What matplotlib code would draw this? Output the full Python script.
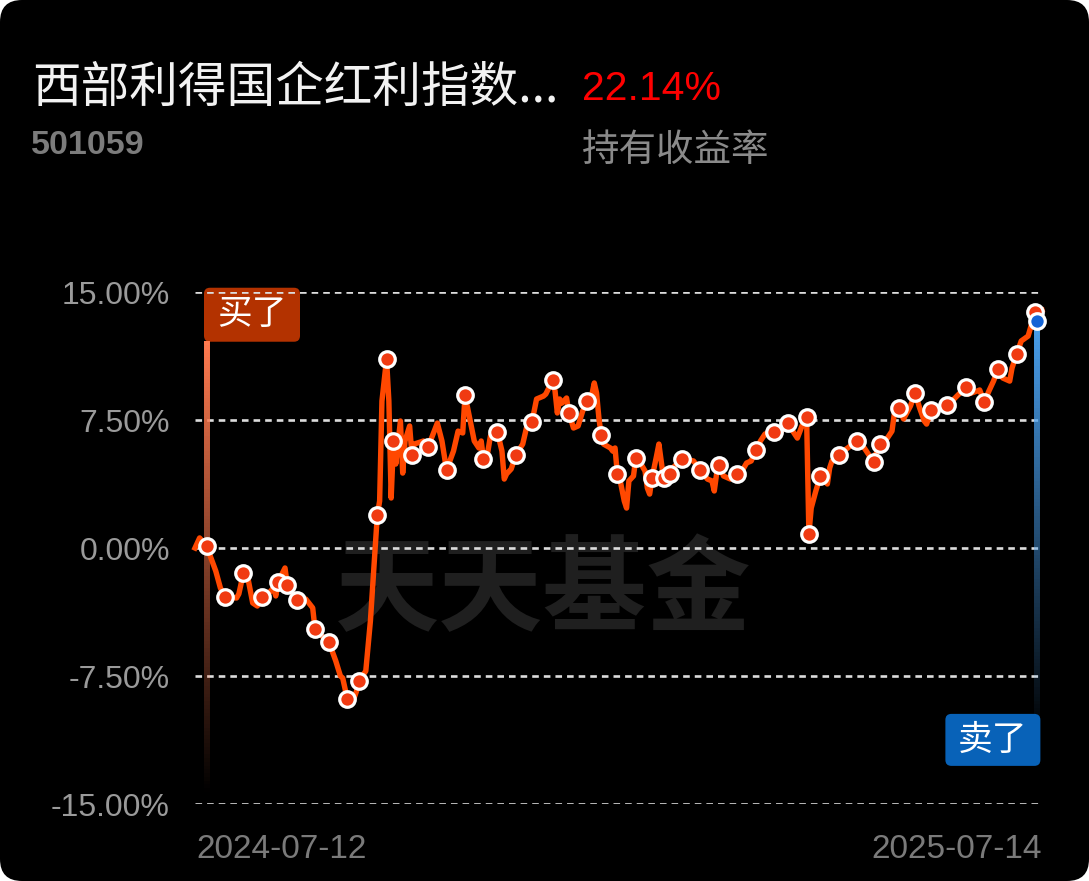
import matplotlib
matplotlib.use("Agg")
import matplotlib.pyplot as plt
import numpy as np
import pandas as pd
from matplotlib.patches import FancyBboxPatch
from matplotlib.collections import LineCollection
from matplotlib.transforms import IdentityTransform

plt.rcParams['font.family'] = ['Liberation Sans', 'Noto Sans CJK SC', 'DejaVu Sans']

# fund info
fund_name = "西部利得国企红利指数..."
fund_code = "501059"
hold_return = "22.14%"
hold_label = "持有收益率"
start_date = pd.Timestamp("2024-07-12")
end_date = pd.Timestamp("2025-07-14")

# holding return curve: calendar days after start date, return in %
days = [0, 2, 5, 9, 11, 13, 18, 19, 21, 23, 25, 27, 29, 32, 34, 35, 36, 39, 40, 44,
        48, 51, 52, 55, 58, 61, 63, 64, 66, 68, 70, 71, 74, 76, 79, 80, 81, 83, 84, 85,
        86, 87, 89, 90, 91, 93, 94, 95, 99, 101, 105, 107, 109, 112, 114, 116, 117, 119, 121, 123,
        124, 125, 126, 128, 131, 133, 134, 135, 137, 139, 142, 144, 146, 148, 151, 152, 155, 156, 157, 158,
        159, 161, 162, 164, 166, 168, 170, 172, 173, 174, 175, 176, 177, 180, 181, 182, 183, 184, 186, 187,
        188, 190, 191, 193, 195, 196, 197, 198, 200, 201, 203, 206, 207, 211, 216, 219, 222, 224, 225, 226,
        227, 229, 232, 235, 237, 239, 241, 243, 245, 247, 251, 252, 255, 257, 259, 261, 263, 265, 266, 267,
        269, 271, 274, 275, 276, 279, 281, 284, 287, 290, 294, 295, 297, 300, 302, 303, 305, 307, 310, 312,
        314, 316, 317, 319, 323, 326, 328, 331, 334, 335, 339, 340, 342, 344, 346, 348, 350, 353, 354, 356,
        358, 361, 362, 364, 367]
returns = [0.00, 0.59, 0.12, -1.35, -2.34, -2.87, -2.93, -2.69, -1.46, -1.82, -3.22, -3.40, -2.87, -2.64, -2.34, -2.81, -1.99, -1.17, -2.17, -3.05,
           -2.99, -3.51, -4.75, -5.16, -5.51, -6.62, -7.50, -7.62, -8.85, -9.14, -8.38, -7.79, -7.21, -4.28, 1.93, 2.75, 8.61, 11.07, 8.61, 2.93,
           6.27, 4.92, 7.44, 4.39, 6.27, 7.15, 5.45, 6.09, 6.27, 5.92, 7.32, 6.27, 4.57, 5.68, 6.85, 6.74, 8.96, 7.62, 6.27, 5.86,
           6.27, 5.21, 4.92, 6.56, 6.80, 5.68, 4.04, 4.34, 4.63, 5.45, 6.09, 7.26, 7.38, 8.73, 8.90, 9.02, 9.84, 9.20, 7.91, 8.73,
           8.49, 8.79, 7.91, 7.03, 7.15, 8.03, 8.61, 9.02, 9.67, 9.08, 7.62, 6.62, 6.09, 5.86, 5.68, 5.86, 4.34, 4.10, 2.75, 2.34,
           3.93, 4.22, 5.27, 4.98, 4.51, 3.51, 3.16, 4.10, 5.40, 6.09, 4.10, 4.34, 4.69, 5.21, 5.10, 4.57, 4.04, 3.93, 3.34, 4.34,
           4.86, 4.22, 4.04, 4.34, 4.51, 4.98, 5.10, 5.74, 6.27, 6.68, 6.80, 6.44, 7.03, 7.32, 6.85, 6.44, 7.15, 7.67, 0.82, 2.34,
           3.34, 4.22, 3.75, 4.69, 5.10, 5.45, 5.68, 5.98, 6.27, 5.86, 5.04, 5.51, 6.09, 6.44, 6.85, 7.85, 8.20, 7.56, 8.32, 9.08,
           8.20, 7.44, 7.26, 8.08, 8.32, 8.38, 8.61, 9.02, 9.43, 9.02, 9.20, 9.26, 8.55, 9.20, 9.78, 10.49, 9.96, 9.78, 10.54, 11.36,
           12.13, 12.42, 12.89, 13.83, 13.94]

# days with a trade marker
trade_days = [5, 13, 21, 29, 36, 40, 44, 52, 58, 66, 71, 79, 83, 86, 94, 101, 109, 117, 125, 131,
              139, 146, 155, 162, 170, 176, 183, 191, 198, 203, 206, 211, 219, 227, 235, 243, 251, 257, 265, 266,
              271, 279, 287, 294, 297, 305, 312, 319, 326, 334, 342, 348, 356, 364]

buy_day = 5
sell_day = 365
sell_return = 13.30

y_ticks = [15, 7.5, 0, -7.5, -15]
y_labels = ["15.00%", "7.50%", "0.00%", "-7.50%", "-15.00%"]

total_days = (end_date - start_date).days
ret_map = dict(zip(days, returns))
trade_vals = [ret_map[d] for d in trade_days]

W, H = 1089, 881
fig = plt.figure(figsize=(W / 100, H / 100), dpi=100)
fig.patch.set_facecolor("white")
card = FancyBboxPatch((0, 0), W, H, boxstyle="round,pad=0,rounding_size=22",
                      transform=IdentityTransform(), facecolor="black", edgecolor="none",
                      zorder=-10)
fig.add_artist(card)

ax_l, ax_r, ax_t, ax_b = 195, 1042, 292, 804
ax = fig.add_axes([ax_l / W, 1 - ax_b / H, (ax_r - ax_l) / W, (ax_b - ax_t) / H])
ax.set_facecolor("none")
ax.set_xlim(0, total_days)
ax.set_ylim(-15, 15)
for s in ax.spines.values():
    s.set_visible(False)
ax.set_xticks([])
ax.set_yticks(y_ticks)
ax.set_yticklabels(y_labels)
ax.tick_params(axis="y", length=0, pad=18, labelsize=23, labelcolor="#9a9a9a")

# pixel scale in data units, for round corners
px_day = (ax_r - ax_l) / total_days
px_pct = (ax_b - ax_t) / 30.0
asp = px_day / px_pct

for yv in y_ticks:
    ax.axhline(yv, color="#dcdcdc", lw=1.9, ls=(0, (2.5, 1.9)), zorder=2)

# watermark
ax.text(543 / W, 1 - 592 / H, "天天基金", fontsize=75, fontweight="bold",
        family=["Noto Sans CJK SC"], color="#1f1f1f", ha="center", va="center",
        transform=fig.transFigure, zorder=0.5, clip_on=False)

# buy flag line with fade
n = 120
ys = np.linspace(12.1, -14.3, n)
segs = [[(buy_day, ys[i]), (buy_day, ys[i + 1])] for i in range(n - 1)]
cols = [(1.0, 0.48, 0.31, 1 - i / (n - 1)) for i in range(n - 1)]
ax.add_collection(LineCollection(segs, colors=cols, linewidths=4.3, zorder=3))

# sell flag line with fade
ys = np.linspace(sell_return, -11.0, n)
segs = [[(sell_day, ys[i]), (sell_day, ys[i + 1])] for i in range(n - 1)]
cols = [(0.29, 0.63, 0.94, 1 - i / (n - 1)) for i in range(n - 1)]
ax.add_collection(LineCollection(segs, colors=cols, linewidths=4.3, zorder=3))

# flag boxes
bw = 96 / px_day
bh = 54 / px_pct
buy_box = FancyBboxPatch((buy_day - 1.1, 15.25 - bh), bw, bh,
                         boxstyle="round,pad=0,rounding_size=%f" % (6 / px_day),
                         mutation_aspect=asp, facecolor="#b33200", edgecolor="none",
                         zorder=1.5, clip_on=False)
ax.add_patch(buy_box)
ax.text(buy_day - 1.1 + bw / 2, 15.25 - bh / 2, "买了", fontsize=25, color="white",
        family=["Noto Sans CJK SC"], ha="center", va="center", zorder=4, clip_on=False)

sbw = 95 / px_day
sbh = 52 / px_pct
sell_box = FancyBboxPatch((sell_day + 1.3 - sbw, -9.72 - sbh), sbw, sbh,
                          boxstyle="round,pad=0,rounding_size=%f" % (6 / px_day),
                          mutation_aspect=asp, facecolor="#0862b8", edgecolor="none",
                          zorder=4, clip_on=False)
ax.add_patch(sell_box)
ax.text(sell_day + 1.3 - sbw / 2, -9.72 - sbh / 2, "卖了", fontsize=25, color="white",
        family=["Noto Sans CJK SC"], ha="center", va="center", zorder=5, clip_on=False)

# return curve
ax.plot(days, returns, color="#ff4800", lw=3.9, solid_joinstyle="round", zorder=5, clip_on=False)
ax.plot(trade_days, trade_vals, ls="none", marker="o", ms=11.2, mfc="#f03a12", mec="white",
        mew=2.3, zorder=6, clip_on=False)
ax.plot([sell_day], [sell_return], ls="none", marker="o", ms=11.2, mfc="#1464d6", mec="white",
        mew=2.3, zorder=7, clip_on=False)

# header texts
fig.text(32 / W, 1 - 88 / H, fund_name, fontsize=35, color="#f2f2f2",
         family=["Noto Sans CJK SC"], ha="left", va="center")
fig.text(31 / W, 1 - 146 / H, fund_code, fontsize=24.5, color="#7c7c7c", fontweight="bold",
         ha="left", va="center")
fig.text(582 / W, 1 - 89 / H, hold_return, fontsize=29.5, color="#ff0000",
         ha="left", va="center")
fig.text(582 / W, 1 - 151 / H, hold_label, fontsize=27, color="#8a8a8a",
         family=["Noto Sans CJK SC"], ha="left", va="center")

# date labels
fig.text(196 / W, 1 - 849 / H, start_date.strftime("%Y-%m-%d"), fontsize=24, color="#7a7a7a",
         ha="left", va="center")
fig.text(1042 / W, 1 - 849 / H, end_date.strftime("%Y-%m-%d"), fontsize=24, color="#7a7a7a",
         ha="right", va="center")

fig.savefig("out.png", dpi=100, facecolor=fig.get_facecolor())
